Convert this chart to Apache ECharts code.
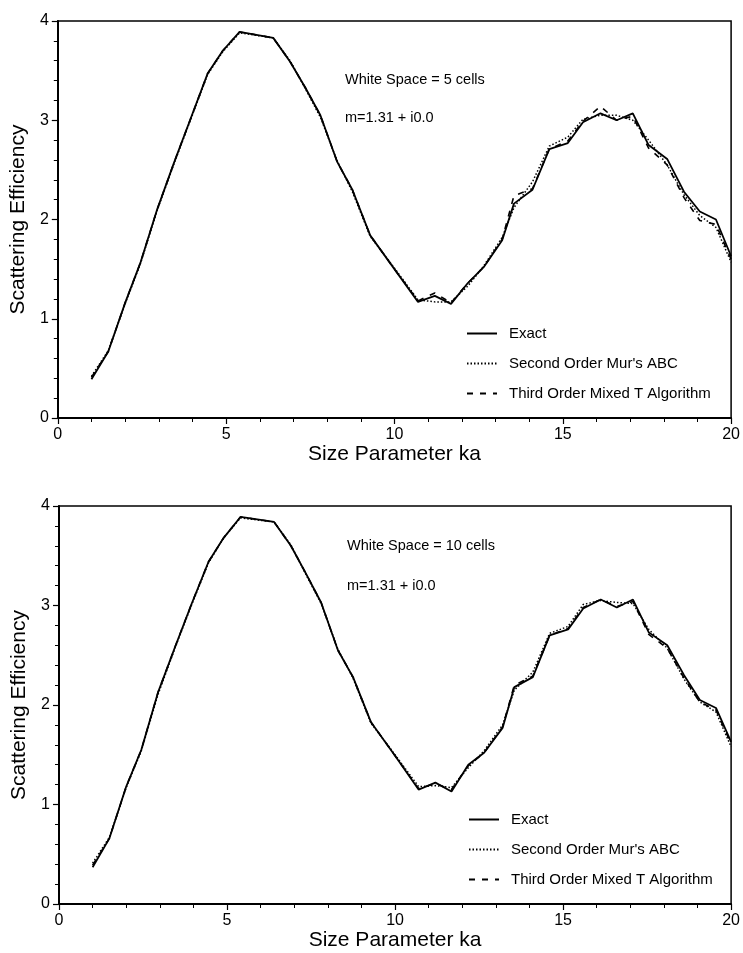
<!DOCTYPE html>
<html>
<head>
<meta charset="utf-8">
<script src="https://cdn.jsdelivr.net/npm/echarts@6/dist/echarts.min.js"></script>
<style>
html,body{margin:0;padding:0;background:#fff;}
#c{width:743px;height:953px;}
</style>
</head>
<body>
<div id="c"></div>
<script>
// Size parameter ka (x values)
const ka = [1.0,1.5,2.0,2.45,2.95,3.45,3.95,4.45,4.9,5.4,6.4,6.9,7.35,7.8,8.3,8.75,9.28,10.0,10.7,11.2,11.68,12.18,12.65,13.2,13.55,14.1,14.6,15.15,15.6,16.12,16.6,17.08,17.55,18.1,18.6,19.07,19.55,20.0];

// Top panel: White Space = 5 cells
const exact5 = [0.39,0.67,1.16,1.56,2.10,2.57,3.02,3.47,3.70,3.89,3.83,3.59,3.33,3.05,2.58,2.30,1.84,1.50,1.17,1.23,1.15,1.36,1.52,1.79,2.16,2.30,2.71,2.77,2.98,3.07,3.00,3.07,2.75,2.61,2.28,2.08,2.00,1.63];
const mur5   = [0.42,0.68,1.15,1.55,2.09,2.56,3.01,3.46,3.69,3.88,3.83,3.60,3.32,3.03,2.59,2.28,1.83,1.51,1.19,1.17,1.17,1.33,1.53,1.82,2.12,2.38,2.74,2.83,3.01,3.05,3.05,3.00,2.80,2.55,2.25,2.04,1.92,1.57];
const third5 = [0.41,0.67,1.16,1.56,2.10,2.57,3.02,3.47,3.70,3.89,3.83,3.59,3.33,3.05,2.58,2.30,1.84,1.50,1.18,1.26,1.16,1.36,1.52,1.80,2.24,2.31,2.71,2.79,2.99,3.14,3.00,3.04,2.72,2.55,2.22,1.99,1.95,1.60];

// Bottom panel: White Space = 10 cells
const exact10 = [0.37,0.66,1.18,1.55,2.13,2.58,3.02,3.44,3.68,3.89,3.84,3.60,3.32,3.03,2.55,2.28,1.83,1.49,1.15,1.22,1.13,1.40,1.52,1.77,2.18,2.28,2.70,2.76,2.97,3.06,2.98,3.06,2.73,2.60,2.30,2.05,1.97,1.63];
const mur10   = [0.41,0.67,1.17,1.54,2.11,2.57,3.01,3.43,3.68,3.88,3.84,3.61,3.31,3.02,2.56,2.27,1.82,1.50,1.18,1.19,1.17,1.37,1.54,1.80,2.15,2.33,2.72,2.79,3.01,3.05,3.03,3.02,2.76,2.57,2.26,2.03,1.93,1.58];
const third10 = [0.39,0.66,1.18,1.55,2.13,2.58,3.02,3.44,3.68,3.89,3.84,3.60,3.32,3.03,2.55,2.28,1.83,1.49,1.16,1.21,1.15,1.39,1.52,1.78,2.20,2.29,2.70,2.77,2.98,3.06,2.99,3.04,2.71,2.57,2.27,2.03,1.95,1.61];

const seriesNames = ['Exact', "Second Order Mur's ABC", 'Third Order Mixed T Algorithm'];
const xTicks = [0,5,10,15,20];
const yTicks = [0,1,2,3,4];
const panelTitles = ['White Space = 5 cells', 'White Space = 10 cells'];
const indexText = 'm=1.31 + i0.0';

const FONT = '"Liberation Sans", Arial, Helvetica, sans-serif';
const pair = (xs, ys) => xs.map((x, i) => [x, ys[i]]);

const grids = [
  {left: 57, top: 21, right: 11, height: 397},
  {left: 59, top: 506, right: 10, height: 398}
];

function xAxisFor(i) {
  return {
    gridIndex: i, type: 'value', min: xTicks[0], max: xTicks[xTicks.length-1], interval: 5,
    name: 'Size Parameter ka', nameLocation: 'middle', nameGap: 20,
    nameTextStyle: {fontFamily: FONT, fontSize: 21, color: '#000'},
    axisLine: {show: true, onZero: false, lineStyle: {color: '#000', width: 2}},
    axisTick: {show: true, inside: false, length: 6, lineStyle: {color: '#000', width: 1.2}},
    minorTick: {show: true, splitNumber: 5, length: 4, lineStyle: {color: '#000', width: 1}},
    axisLabel: {fontFamily: FONT, fontSize: 16, color: '#000', margin: 9},
    splitLine: {show: false}
  };
}
function yAxisFor(i) {
  return {
    gridIndex: i, type: 'value', min: yTicks[0], max: yTicks[yTicks.length-1], interval: 1,
    name: 'Scattering Efficiency', nameLocation: 'middle', nameGap: 28,
    nameTextStyle: {fontFamily: FONT, fontSize: 21, color: '#000'},
    axisLine: {show: true, onZero: false, lineStyle: {color: '#000', width: 2}},
    axisTick: {show: true, inside: false, length: 6, lineStyle: {color: '#000', width: 1.2}},
    minorTick: {show: true, splitNumber: 5, length: 4, lineStyle: {color: '#000', width: 1}},
    axisLabel: {fontFamily: FONT, fontSize: 16, color: '#000', margin: 9},
    splitLine: {show: false}
  };
}

function seriesFor(i, ex, mu, th) {
  return [
    {name: seriesNames[1], type: 'line', xAxisIndex: i, yAxisIndex: i, data: pair(ka, mu),
     symbol: 'none', itemStyle: {color: '#000'}, lineStyle: {color: '#000', width: 1.5, type: [1.5, 2]}, z: 2, animation: false},
    {name: seriesNames[2], type: 'line', xAxisIndex: i, yAxisIndex: i, data: pair(ka, th),
     symbol: 'none', itemStyle: {color: '#000'}, lineStyle: {color: '#000', width: 1.6, type: [6, 7]}, z: 3, animation: false},
    {name: seriesNames[0], type: 'line', xAxisIndex: i, yAxisIndex: i, data: pair(ka, ex),
     symbol: 'none', itemStyle: {color: '#000'}, lineStyle: {color: '#000', width: 1.8, type: 'solid'}, z: 4, animation: false}
  ];
}

function legendFor(left, top) {
  return {
    data: seriesNames, orient: 'vertical', left: left, top: top, padding: 0,
    itemWidth: 30, itemHeight: 14, itemGap: 15, selectedMode: false,
    itemStyle: {color: 'rgba(0,0,0,0)', borderColor: 'rgba(0,0,0,0)', borderWidth: 0, opacity: 0},
    textStyle: {fontFamily: FONT, fontSize: 15, color: '#000', padding: [0, 0, 0, 7]}
  };
}

const chart = echarts.init(document.getElementById('c'), null, {renderer: 'canvas'});
chart.setOption({
  backgroundColor: '#fff',
  animation: false,
  grid: grids.map(g => Object.assign({show: true, borderColor: '#000', borderWidth: 1.5, backgroundColor: 'transparent'}, g)),
  xAxis: [xAxisFor(0), xAxisFor(1)],
  yAxis: [yAxisFor(0), yAxisFor(1)],
  legend: [legendFor(466, 326), legendFor(468, 812)],
  series: [].concat(seriesFor(0, exact5, mur5, third5), seriesFor(1, exact10, mur10, third10)),
  graphic: [
    {type: 'text', left: 345, top: 72, style: {text: panelTitles[0], font: '14.5px ' + FONT, fill: '#000'}},
    {type: 'text', left: 345, top: 110, style: {text: indexText, font: '14.5px ' + FONT, fill: '#000'}},
    {type: 'text', left: 347, top: 538, style: {text: panelTitles[1], font: '14.5px ' + FONT, fill: '#000'}},
    {type: 'text', left: 347, top: 578, style: {text: indexText, font: '14.5px ' + FONT, fill: '#000'}}
  ]
});
</script>
</body>
</html>
